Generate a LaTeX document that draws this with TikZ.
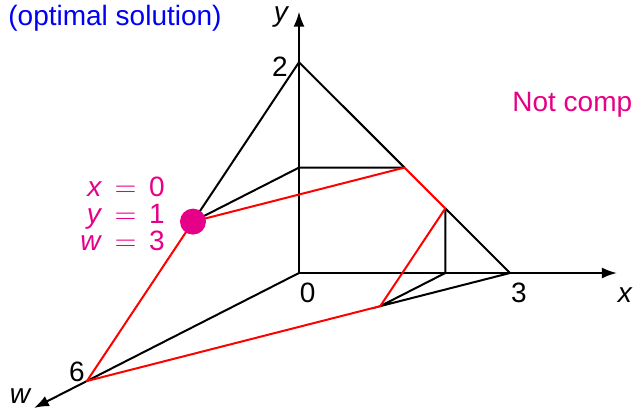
\documentclass[tikz,border=0pt]{standalone}
\usepackage{fontspec}
\setmainfont{Liberation Sans}
\usetikzlibrary{arrows.meta, calc}

\definecolor{solmag}{RGB}{230,0,135}
\definecolor{solblue}{RGB}{0,0,245}

\begin{document}
\begin{tikzpicture}[
    x={(35.17pt,0pt)}, y={(0pt,52.7pt)}, z={(-17.67pt,-9pt)},
    font=\fontsize{14}{13.5}\selectfont,
    edge/.style={line width=1pt, black},
    cut/.style={line width=1pt, red, line join=round},
    axis/.style={line width=1pt, -{Latex[length=7.5pt, width=5.5pt]}},
    lbl/.style={inner sep=0pt},
    var/.style={inner sep=0pt, font=\fontsize{14}{13.5}\selectfont\itshape}
]
    \useasboundingbox (-149.5pt,-68pt) rectangle (167.5pt,136.5pt);

    % corners of the region
    \coordinate (O)  at (0,0,0);
    \coordinate (X3) at (3,0,0);
    \coordinate (Y2) at (0,2,0);
    \coordinate (W6) at (0,0,6);
    % points where the cuts meet the edges
    \coordinate (Y1) at (0,1,0);
    \coordinate (P)  at (0,1,3);
    \coordinate (A)  at (1.5,1,0);
    \coordinate (B)  at (2.08,0.613,0);
    \coordinate (Bx) at (2.08,0,0);
    \coordinate (C)  at (2.08,0,1.84);
    % axis tips
    \coordinate (xtip) at (4.52,0,0);
    \coordinate (ytip) at (0,2.48,0);
    \coordinate (wtip) at (0,0,7.5);

    \draw[axis] (O) -- (xtip);
    \draw[axis] (O) -- (ytip);
    \draw[axis] (O) -- (wtip);

    \draw[edge] (Y2) -- (A);
    \draw[edge] (B) -- (X3);
    \draw[edge] (Y2) -- (P);
    \draw[edge] (P) -- (Y1) -- (A);
    \draw[edge] (B) -- (Bx) -- (C) -- (X3);

    \draw[cut] (W6) -- (P) -- (A) -- (B) -- (C) -- cycle;

    \fill[solmag] (P) circle (6.5pt);

    % axis labels
    \node[var] (xlab) at (163pt,-11pt) {x};
    \node[var] (ylab) at (-9pt,128pt) {y};
    \node[var] (wlab) at (-139.5pt,-61.5pt) {w};
    \node[lbl] (lzero)  at ($(O)+(4.3pt,-10pt)$) {0};
    \node[lbl] (lthree) at ($(X3)+(4.5pt,-10pt)$) {3};
    \node[lbl] (ltwo)   at ($(Y2)+(-9.5pt,-2.5pt)$) {2};
    \node[lbl] (lsix)   at ($(W6)+(-5pt,4.5pt)$) {6};

    % texts
    \node[lbl, anchor=west, text=solblue] (opt) at (-145.5pt,127.5pt) {(optimal solution)};
    \node[lbl, anchor=west, text=solmag] (notc) at (106.5pt,84pt) {Not comp};
    \node[lbl, anchor=east, align=right, text=solmag] (vals) at ($(P)+(-14pt,4pt)$)
        {\textit{x}\,~$=$~\,0\\ \textit{y}\,~$=$~\,1\\ \textit{w}\,~$=$~\,3};
\end{tikzpicture}
\end{document}
